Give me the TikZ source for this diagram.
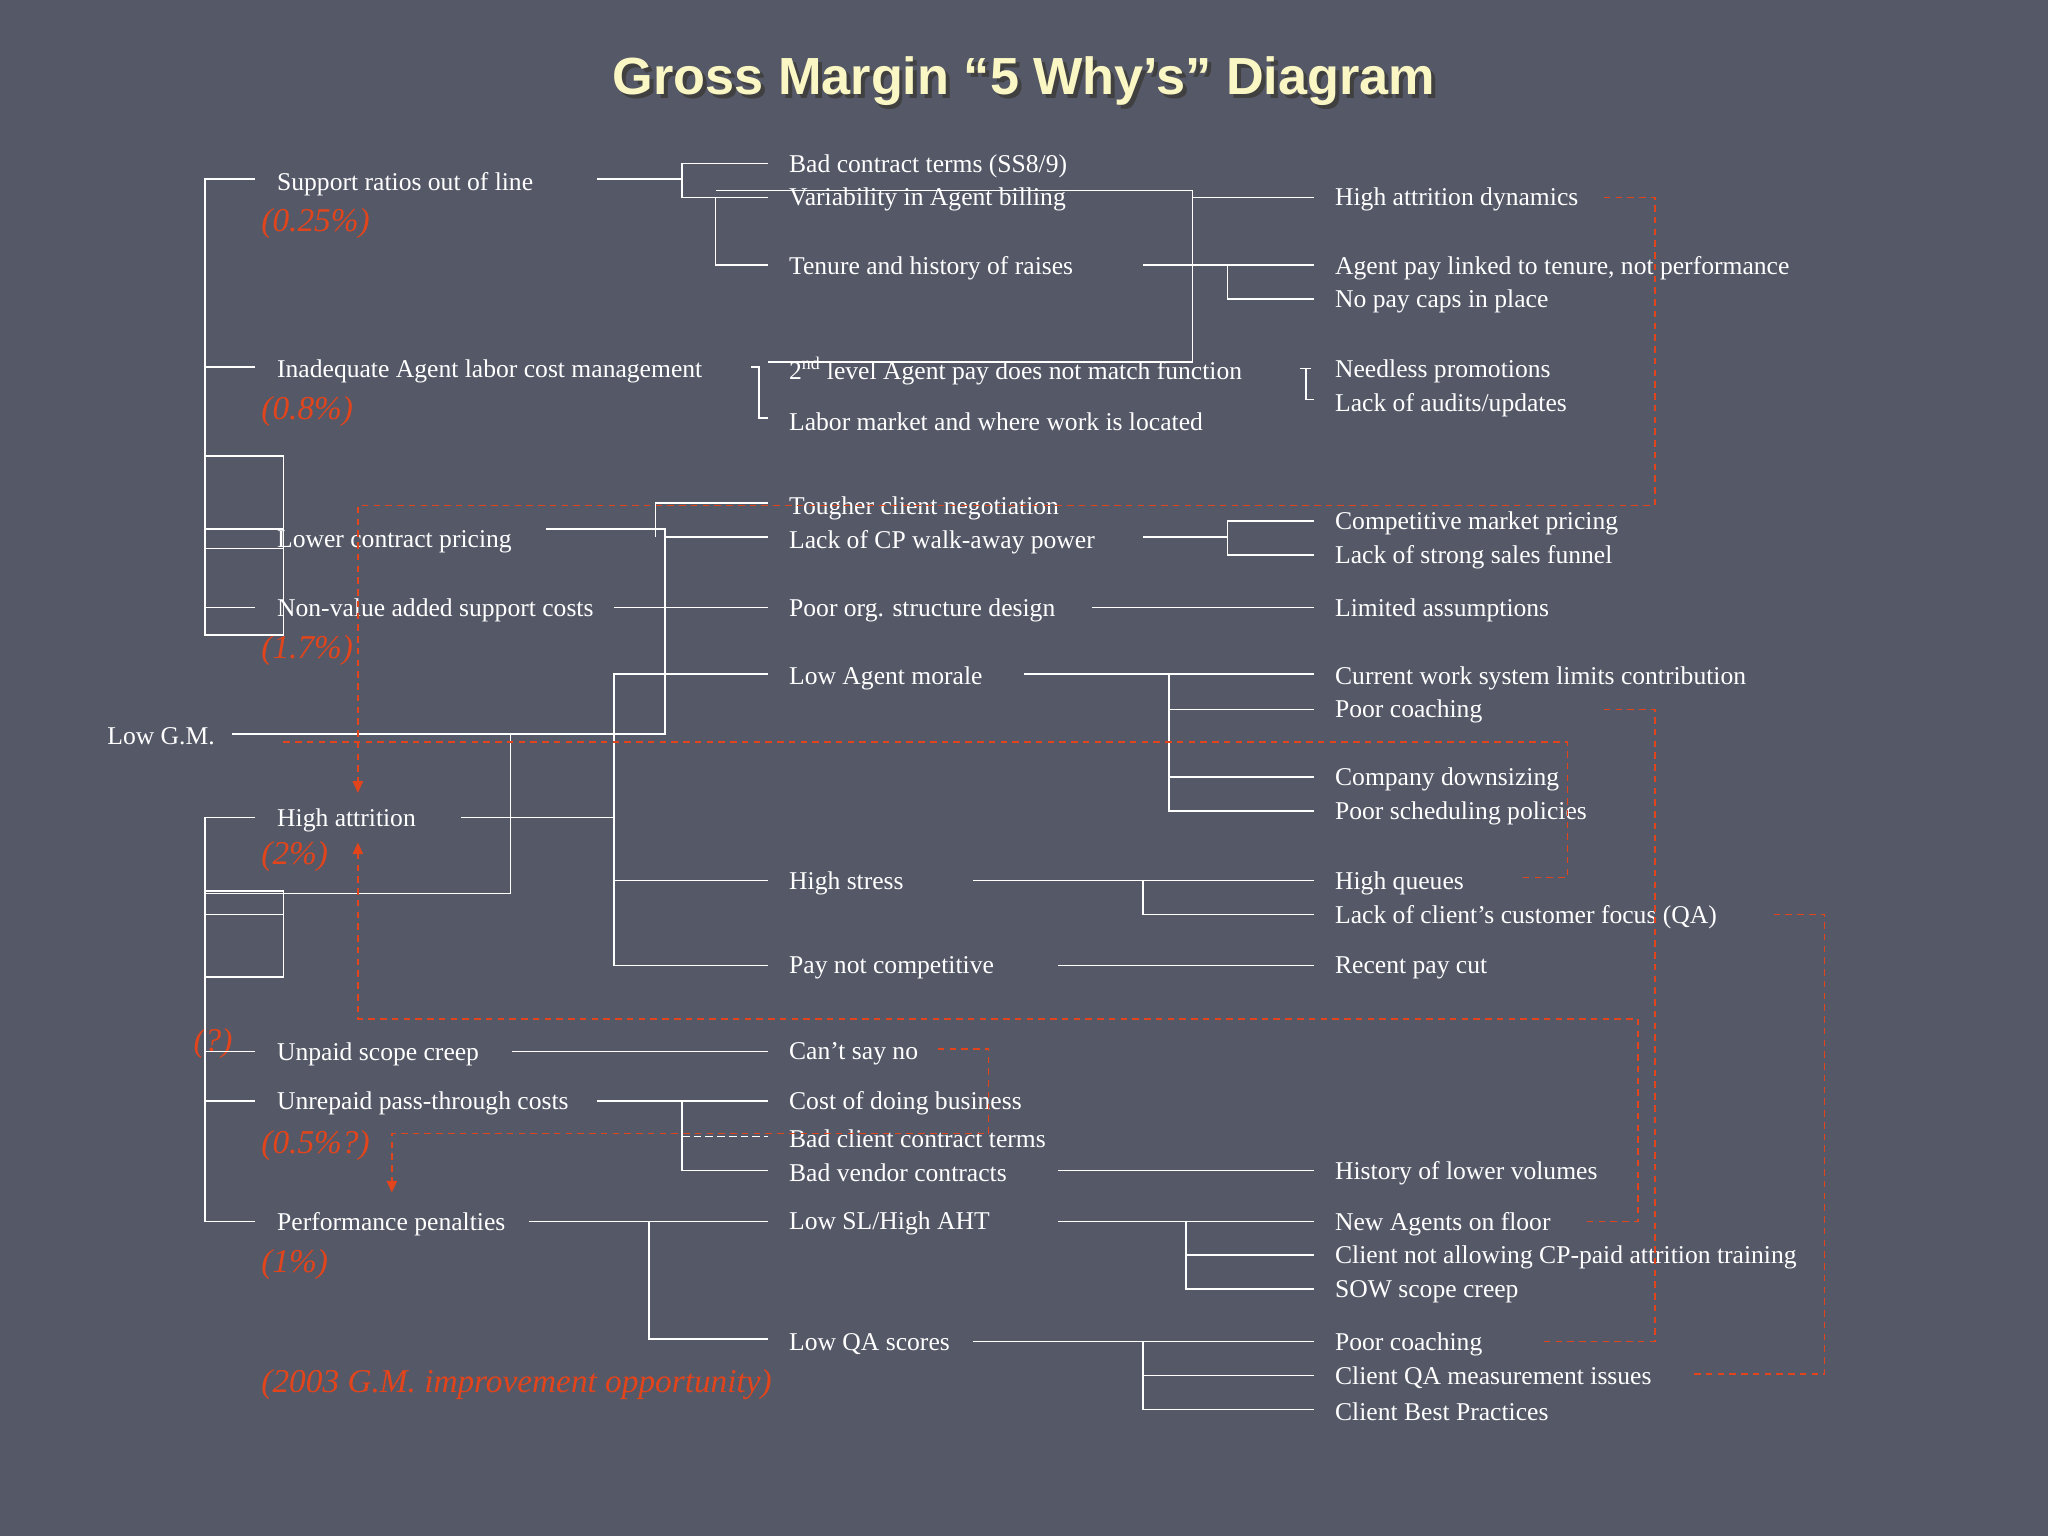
\documentclass[tikz,border=0pt]{standalone}
\usepackage{fontspec}
\setmainfont{Liberation Serif}
\newfontfamily\ttlfont{Liberation Sans}
\usetikzlibrary{arrows.meta}
\definecolor{bg}{HTML}{555867}
\definecolor{rd}{HTML}{E2451C}
\definecolor{ttl}{HTML}{FBF7C4}
\begin{document}
\begin{tikzpicture}[x=1pt,y=-1pt,
 t/.style={anchor=west,inner sep=0,yshift=-2pt,text=white,font=\fontsize{19.6}{21}\selectfont},
 r/.style={anchor=west,inner sep=0,yshift=-2pt,text=rd,font=\fontsize{25.5}{27}\selectfont\itshape},
 w/.style={white,line width=1.1pt},
 d/.style={rd,line width=1.1pt,dash pattern=on 5pt off 4pt},
 ar/.style={d,-{Triangle[width=8pt,length=9pt]}}]
\fill[bg] (0,0) rectangle (1568,1176);
\useasboundingbox (0,0) rectangle (1568,1176);
\node[text=black!75,font=\ttlfont\bfseries\fontsize{40}{42}\selectfont] at (787,65) {Gross Margin “5 Why’s” Diagram};
\node[text=ttl,font=\ttlfont\bfseries\fontsize{40}{42}\selectfont] (title) at (784,62) {Gross Margin “5 Why’s” Diagram};
% left
\node[t] (a1) at (212,139) {Support ratios out of line};
\node[r] (p1) at (200,169) {(0.25\%)};
\node[t] (a2) at (212,282) {Inadequate Agent labor cost management};
\node[r] (p2) at (200,313) {(0.8\%)};
\node[t] (a3) at (212,413) {Lower contract pricing};
\node[t] (a4) at (212,465) {Non-value added support costs};
\node[r] (p3) at (200,496) {(1.7\%)};
\node[t] (gm) at (82,562) {Low G.M.};
\node[t] (a5) at (212,626) {High attrition};
\node[r] (p4) at (200,654) {(2\%)};
\node[r] (p5) at (148,797) {(?)};
\node[t] (a6) at (212,805) {Unpaid scope creep};
\node[t] (a7) at (212,843) {Unrepaid pass-through costs};
\node[r] (p6) at (200,875) {(0.5\%?)};
\node[t] (a8) at (212,935) {Performance penalties};
\node[r] (p7) at (200,966) {(1\%)};
\node[r] (p8) at (200,1058) {(2003 G.M. improvement opportunity)};
% middle
\node[t] (b1) at (604,125) {Bad contract terms (SS8/9)};
\node[t] (b2) at (604,151) {Variability in Agent billing};
\node[t] (b3) at (604,203) {Tenure and history of raises};
\node[t] (b4) at (604,282) {2\textsuperscript{nd} level Agent pay does not match function};
\node[t] (b5) at (604,321) {Labor market and where work is located};
\node[t] (b6) at (604,387) {Tougher client negotiation};
\node[t] (b7) at (604,413) {Lack of CP walk-away power};
\node[t] (b8) at (604,465) {Poor org. structure design};
\node[t] (b9) at (604,517) {Low Agent morale};
\node[t] (b10) at (604,674) {High stress};
\node[t] (b11) at (604,739) {Pay not competitive};
\node[t] (b12) at (604,805) {Can’t say no};
\node[t] (b13) at (604,843) {Cost of doing business};
\node[t] (b14) at (604,870) {Bad client contract terms};
\node[t] (b15) at (604,896) {Bad vendor contracts};
\node[t] (b16) at (604,935) {Low SL/High AHT};
\node[t] (b17) at (604,1027) {Low QA scores};
% right
\node[t] (c1) at (1022,151) {High attrition dynamics};
\node[t] (c2) at (1022,203) {Agent pay linked to tenure, not performance};
\node[t] (c3) at (1022,229) {No pay caps in place};
\node[t] (c4) at (1022,282) {Needless promotions};
\node[t] (c5) at (1022,308) {Lack of audits/updates};
\node[t] (c6) at (1022,399) {Competitive market pricing};
\node[t] (c7) at (1022,425) {Lack of strong sales funnel};
\node[t] (c8) at (1022,465) {Limited assumptions};
\node[t] (c9) at (1022,517) {Current work system limits contribution};
\node[t] (c10) at (1022,543) {Poor coaching};
\node[t] (c11) at (1022,595) {Company downsizing};
\node[t] (c12) at (1022,621) {Poor scheduling policies};
\node[t] (c13) at (1022,674) {High queues};
\node[t] (c14) at (1022,700) {Lack of client’s customer focus (QA)};
\node[t] (c15) at (1022,739) {Recent pay cut};
\node[t] (c16) at (1022,896) {History of lower volumes};
\node[t] (c17) at (1022,935) {New Agents on floor};
\node[t] (c18) at (1022,961) {Client not allowing CP-paid attrition training};
\node[t] (c19) at (1022,987) {SOW scope creep};
\node[t] (c20) at (1022,1027) {Poor coaching};
\node[t] (c21) at (1022,1053) {Client QA measurement issues};
\node[t] (c22) at (1022,1079) {Client Best Practices};
% white lines - left tree
\draw[w] (195,137)--(157,137)--(157,486)--(217,486)--(217,349)--(157,349);
\draw[w] (157,281)--(195,281) (157,405)--(217,405) (157,420)--(217,420) (157,465)--(195,465);
\draw[w] (178,562)--(509,562)--(509,405)--(418,405);
\draw[w] (391,562)--(391,684)--(157,684);
\draw[w] (195,626)--(157,626)--(157,935)--(195,935);
\draw[w] (157,682)--(217,682)--(217,748)--(157,748) (157,700)--(217,700);
\draw[w] (157,805)--(195,805) (157,843)--(195,843);
% middle connections
\draw[w] (457,137)--(522,137) (588,125)--(522,125)--(522,151)--(588,151);
\draw[w] (548,151)--(548,203)--(588,203);
\draw[w] (548,146)--(913,146)--(913,277)--(588,277) (901,146)--(913,146) (913,151)--(1006,151);
\draw[w] (875,203)--(1006,203) (940,203)--(940,229)--(1006,229);
\draw[w] (575,281)--(581,281)--(581,320)--(588,320);
\draw[w] (995,282)--(1004,282) (1000,282)--(1000,306)--(1006,306);
\draw[w] (588,385)--(502,385)--(502,411) (509,411)--(588,411);
\draw[w] (875,411)--(940,411) (1006,399)--(940,399)--(940,425)--(1006,425);
\draw[w] (470,465)--(588,465) (836,465)--(1006,465);
\draw[w] (353,626)--(470,626) (588,516)--(470,516)--(470,739)--(588,739) (470,674)--(588,674);
\draw[w] (784,516)--(1006,516) (895,516)--(895,621)--(1006,621) (895,543)--(1006,543) (895,595)--(1006,595);
\draw[w] (745,674)--(1006,674) (875,674)--(875,700)--(1006,700);
\draw[w] (810,739)--(1006,739);
\draw[w] (392,805)--(588,805);
\draw[w] (457,843)--(588,843) (522,843)--(522,896)--(588,896);
\draw[w,dash pattern=on 6pt off 3pt] (522,870)--(588,870);
\draw[w] (810,896)--(1006,896);
\draw[w] (405,935)--(588,935) (497,935)--(497,1025)--(588,1025);
\draw[w] (810,935)--(1006,935) (908,935)--(908,987)--(1006,987) (908,961)--(1006,961);
\draw[w] (745,1027)--(1006,1027) (875,1027)--(875,1079)--(1006,1079) (875,1053)--(1006,1053);
% red dashed
\draw[ar] (1228,151)--(1267,151)--(1267,387)--(274,387)--(274,607);
\draw[d] (1228,543)--(1267,543)--(1267,1027)--(1181,1027);
\draw[ar] (1215,935)--(1254,935)--(1254,780)--(274,780)--(274,645);
\draw[d] (217,568)--(1200,568)--(1200,672)--(1165,672);
\draw[d] (1358,700)--(1397,700)--(1397,1052)--(1295,1052);
\draw[ar] (718,803)--(757,803)--(757,868)--(300,868)--(300,913);
\end{tikzpicture}
\end{document}
